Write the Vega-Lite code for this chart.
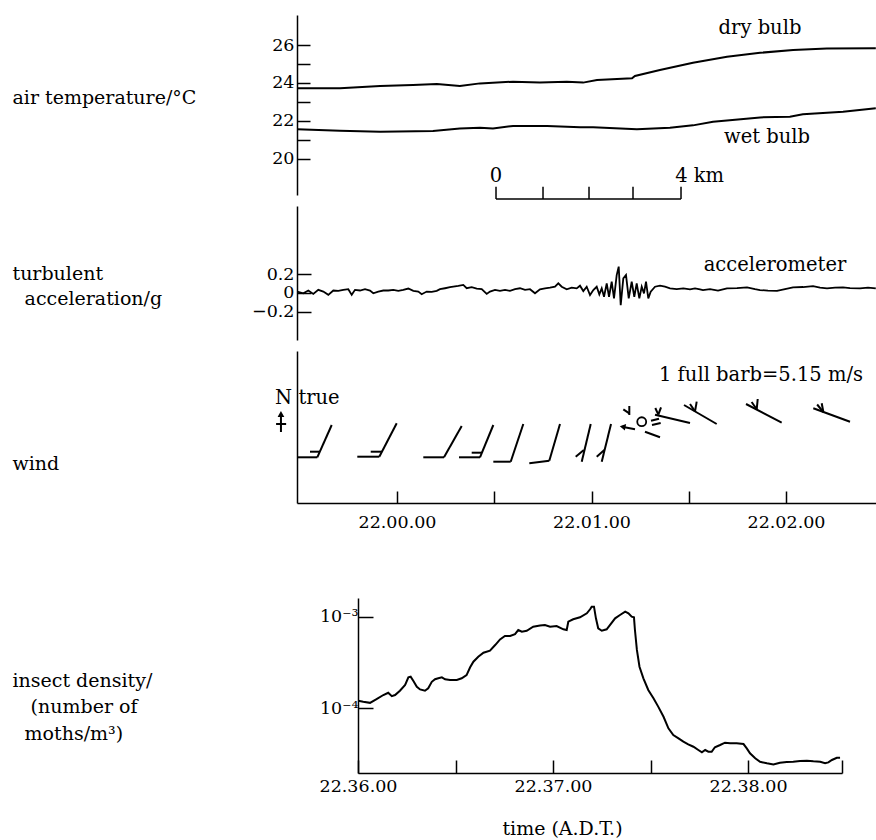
{
"$schema":"https://vega.github.io/schema/vega-lite/v6.json",
"background":"white",
"padding":{"left":12,"top":15,"right":0,"bottom":0},
"config":{
  "font":"DejaVu Serif",
  "view":{"stroke":null},
  "axis":{"domainColor":"black","domainWidth":1.5,"tickColor":"black","tickWidth":1.5,"labelColor":"black","titleColor":"black","labelFont":"DejaVu Serif","titleFont":"DejaVu Serif","labelFontSize":17.5,"titleFontSize":19,"titleFontWeight":"normal","grid":false,"labelFlush":false,"labelOverlap":false,"labelBound":false},
  "text":{"font":"DejaVu Serif","fontSize":19.5,"color":"black"}
},
"datasets":{
  "temperature":[
    {"sensor":"dry bulb","t":-30.8,"v":23.72},{"sensor":"dry bulb","t":-17.6,"v":23.72},{"sensor":"dry bulb","t":-5.2,"v":23.84},{"sensor":"dry bulb","t":4.9,"v":23.89},{"sensor":"dry bulb","t":12.3,"v":23.95},{"sensor":"dry bulb","t":19.4,"v":23.84},{"sensor":"dry bulb","t":25.6,"v":23.98},{"sensor":"dry bulb","t":35.8,"v":24.07},{"sensor":"dry bulb","t":44.1,"v":24.02},{"sensor":"dry bulb","t":52.4,"v":24.07},{"sensor":"dry bulb","t":57.4,"v":24.02},{"sensor":"dry bulb","t":61.7,"v":24.16},{"sensor":"dry bulb","t":72.5,"v":24.25},{"sensor":"dry bulb","t":73.4,"v":24.37},{"sensor":"dry bulb","t":81.1,"v":24.68},{"sensor":"dry bulb","t":91.3,"v":25.07},{"sensor":"dry bulb","t":101.8,"v":25.38},{"sensor":"dry bulb","t":112,"v":25.59},{"sensor":"dry bulb","t":122.2,"v":25.74},{"sensor":"dry bulb","t":132.6,"v":25.81},{"sensor":"dry bulb","t":147.7,"v":25.83},
    {"sensor":"wet bulb","t":-30.8,"v":21.56},{"sensor":"wet bulb","t":-17.6,"v":21.49},{"sensor":"wet bulb","t":-5.2,"v":21.44},{"sensor":"wet bulb","t":11.1,"v":21.47},{"sensor":"wet bulb","t":19.4,"v":21.61},{"sensor":"wet bulb","t":25.6,"v":21.65},{"sensor":"wet bulb","t":29.6,"v":21.61},{"sensor":"wet bulb","t":35.8,"v":21.74},{"sensor":"wet bulb","t":46.3,"v":21.74},{"sensor":"wet bulb","t":56.5,"v":21.67},{"sensor":"wet bulb","t":60.5,"v":21.67},{"sensor":"wet bulb","t":74.0,"v":21.56},{"sensor":"wet bulb","t":84.2,"v":21.65},{"sensor":"wet bulb","t":91.3,"v":21.77},{"sensor":"wet bulb","t":97.5,"v":21.96},{"sensor":"wet bulb","t":112.0,"v":22.19},{"sensor":"wet bulb","t":121.2,"v":22.23},{"sensor":"wet bulb","t":125.2,"v":22.35},{"sensor":"wet bulb","t":137.6,"v":22.49},{"sensor":"wet bulb","t":147.7,"v":22.67}
  ],
  "accel":[
    {"t":-30.8,"v":0.014},{"t":-28.9,"v":-0.004},{"t":-27.36,"v":0.025},{"t":-25.82,"v":-0.011},{"t":-24.28,"v":0.032},{"t":-22.73,"v":0.014},{"t":-21.19,"v":-0.021},{"t":-19.65,"v":0.025},{"t":-18.11,"v":0.021},{"t":-16.57,"v":0.032},{"t":-15.02,"v":0.039},{"t":-13.97,"v":-0.021},{"t":-12.96,"v":0.032},{"t":-11.41,"v":0.025},{"t":-9.87,"v":0.039},{"t":-8.33,"v":0.025},{"t":-7.31,"v":-0.004},{"t":-5.77,"v":0.014},{"t":-4.23,"v":0.025},{"t":-2.68,"v":0.025},{"t":-1.14,"v":0.032},{"t":0.4,"v":0.021},{"t":1.94,"v":0.032},{"t":3.49,"v":0.046},{"t":5.03,"v":0.021},{"t":6.57,"v":0.014},{"t":7.62,"v":-0.014},{"t":9.16,"v":0.014},{"t":10.7,"v":0.011},{"t":12.25,"v":0.021},{"t":13.26,"v":0.039},{"t":14.81,"v":0.049},{"t":16.35,"v":0.06},{"t":17.37,"v":0.067},{"t":18.91,"v":0.074},{"t":20.45,"v":0.084},{"t":21.5,"v":0.049},{"t":23.04,"v":0.06},{"t":24.59,"v":0.046},{"t":26.13,"v":0.039},{"t":27.67,"v":-0.011},{"t":28.69,"v":0.014},{"t":30.23,"v":0.032},{"t":31.77,"v":0.021},{"t":33.32,"v":0.032},{"t":34.86,"v":0.021},{"t":36.4,"v":0.039},{"t":37.94,"v":0.049},{"t":39.49,"v":0.032},{"t":41.03,"v":0.039},{"t":42.57,"v":-0.004},
    {"t":44.11,"v":0.037},{"t":45.66,"v":0.048},{"t":47.2,"v":0.055},{"t":48.74,"v":0.065},{"t":49.76,"v":0.101},{"t":50.81,"v":0.065},{"t":52.35,"v":0.037},{"t":53.89,"v":0.055},{"t":55.44,"v":0.048},{"t":56.45,"v":0.076},{"t":57.47,"v":0.019},{"t":58.52,"v":0.065},{"t":59.54,"v":-0.023},{"t":60.56,"v":0.03},{"t":61.6,"v":0.065},{"t":62.41,"v":-0.016},{"t":63.15,"v":0.048},{"t":63.86,"v":-0.041},{"t":64.69,"v":0.101},{"t":65.4,"v":-0.041},{"t":66.23,"v":0.118},{"t":66.94,"v":-0.059},{"t":67.77,"v":0.189},{"t":68.39,"v":0.278},{"t":69.01,"v":-0.13},{"t":69.81,"v":0.154},{"t":70.64,"v":0.189},{"t":71.48,"v":-0.059},{"t":72.4,"v":0.118},{"t":73.2,"v":-0.041},{"t":73.94,"v":0.101},{"t":74.75,"v":-0.059},{"t":75.49,"v":0.065},{"t":76.19,"v":-0.005},{"t":76.81,"v":0.118},{"t":77.52,"v":-0.059},{"t":78.26,"v":0.012},{"t":79.59,"v":0.065},{"t":81.13,"v":0.076},{"t":82.67,"v":0.065},{"t":84.22,"v":0.048},{"t":86.28,"v":0.04},{"t":88.32,"v":0.048},{"t":90.38,"v":0.037},{"t":91.93,"v":0.048},{"t":93.47,"v":0.037},
    {"t":94.39,"v":0.03},{"t":96.55,"v":0.04},{"t":99.02,"v":0.024},{"t":101.8,"v":0.048},{"t":104.88,"v":0.051},{"t":107.97,"v":0.059},{"t":110.44,"v":0.04},{"t":111.98,"v":0.03},{"t":114.45,"v":0.024},{"t":117.22,"v":0.022},{"t":119.69,"v":0.04},{"t":122.16,"v":0.059},{"t":125.24,"v":0.062},{"t":128.33,"v":0.072},{"t":130.49,"v":0.056},{"t":132.65,"v":0.048},{"t":135.12,"v":0.056},{"t":137.58,"v":0.059},{"t":139.74,"v":0.051},{"t":142.83,"v":0.048},{"t":145.3,"v":0.056},{"t":147.7,"v":0.048}
  ],
  "barbs":[
    {"t":-30.76,"v":45.7,"t2":-24.59,"v2":45.7},{"t":-24.59,"v":45.7,"t2":-20.14,"v2":78},{"t":-26.84,"v":51.3,"t2":-23.81,"v2":51.3},
    {"t":-12.25,"v":46.3,"t2":-5.46,"v2":46.3},{"t":-5.46,"v":46.3,"t2":-0.09,"v2":79.7},{"t":-8.11,"v":51.3,"t2":-4.63,"v2":51.3},
    {"t":8.11,"v":45.7,"t2":14.5,"v2":45.7},{"t":14.5,"v":45.7,"t2":19.96,"v2":77},
    {"t":19.13,"v":45.7,"t2":25.6,"v2":45.7},{"t":23.04,"v":50.3,"t2":26.22,"v2":50.3},{"t":25.6,"v":45.7,"t2":29.71,"v2":78},
    {"t":29.71,"v":41.3,"t2":35.07,"v2":41.3},{"t":35.07,"v":41.3,"t2":38.96,"v2":79},
    {"t":40.81,"v":39.7,"t2":46.98,"v2":42.3},{"t":46.98,"v":42.3,"t2":50.28,"v2":79},
    {"t":56.98,"v":41.3,"t2":59.76,"v2":79},{"t":57.63,"v":53,"t2":55.13,"v2":46.3},
    {"t":63.15,"v":41.3,"t2":66.02,"v2":79},{"t":63.96,"v":53,"t2":61.61,"v2":46.3},
    {"t":69.41,"v":76.3,"t2":73.42,"v2":73.7},
    {"t":69.81,"v":93.7,"t2":71.66,"v2":89.7},{"t":71.66,"v":97,"t2":71.66,"v2":88},
    {"t":78.35,"v":82.3,"t2":80.82,"v2":84.3},{"t":78.66,"v":78,"t2":81.34,"v2":80},
    {"t":76.5,"v":71.3,"t2":81.13,"v2":65.7},
    {"t":79.59,"v":88.3,"t2":90.38,"v2":80},{"t":79.68,"v":95,"t2":80.61,"v2":88.3},{"t":81.44,"v":95.7,"t2":80.61,"v2":88.3},
    {"t":88.53,"v":98,"t2":98.62,"v2":79},{"t":91.93,"v":91.6,"t2":92.45,"v2":101.3},{"t":90.38,"v":99,"t2":91.93,"v2":91.6},
    {"t":107.66,"v":99,"t2":118.67,"v2":80.3},{"t":110.96,"v":93.7,"t2":111.27,"v2":104},{"t":109.4,"v":101,"t2":110.96,"v2":93.7},
    {"t":128.42,"v":94.7,"t2":139.74,"v2":81.3},{"t":131.51,"v":91,"t2":131.02,"v2":99.7},{"t":129.6,"v":98.5,"t2":131.51,"v2":91},
    {"t":-35.8,"v":71,"t2":-35.8,"v2":88},{"t":-37.3,"v":79,"t2":-34.2,"v2":79}
  ],
  "insect":[
    {"t":0.1,"v":1.213e-4},{"t":1.6,"v":1.18e-4},{"t":3.7,"v":1.15e-4},{"t":5.7,"v":1.26e-4},{"t":7.8,"v":1.4e-4},{"t":9.3,"v":1.48e-4},{"t":10.4,"v":1.36e-4},{"t":11.4,"v":1.4e-4},{"t":12.9,"v":1.56e-4},{"t":14.5,"v":1.8e-4},{"t":15.5,"v":2.18e-4},{"t":16.2,"v":2.22e-4},{"t":17.0,"v":2.0e-4},{"t":18.1,"v":1.72e-4},{"t":19.1,"v":1.61e-4},{"t":20.6,"v":1.56e-4},{"t":21.6,"v":1.66e-4},{"t":22.7,"v":1.95e-4},{"t":23.7,"v":2.08e-4},{"t":24.7,"v":2.13e-4},{"t":25.8,"v":2.18e-4},{"t":26.8,"v":2.08e-4},{"t":28.3,"v":2.04e-4},{"t":30.4,"v":2.04e-4},{"t":31.9,"v":2.13e-4},{"t":33.4,"v":2.31e-4},{"t":34.5,"v":2.81e-4},{"t":35.5,"v":3.23e-4},{"t":37.0,"v":3.66e-4},{"t":38.6,"v":4.05e-4},{"t":40.6,"v":4.26e-4},{"t":42.2,"v":4.91e-4},{"t":43.7,"v":5.66e-4},{"t":45.2,"v":6.16e-4},{"t":46.8,"v":6.16e-4},{"t":48.3,"v":6.47e-4},{"t":49.3,"v":7.16e-4},{"t":50.4,"v":6.86e-4},{"t":51.9,"v":7.03e-4},{"t":53.9,"v":7.78e-4},{"t":56.0,"v":8.0e-4},{"t":57.5,"v":8.11e-4},{"t":59.1,"v":7.78e-4},{"t":61.1,"v":7.92e-4},{"t":63.2,"v":7.29e-4},{"t":64.2,"v":7.16e-4},{"t":64.7,"v":8.82e-4},{"t":66.2,"v":9.37e-4},{"t":68.3,"v":9.85e-4},{"t":70.4,"v":1.089e-3},{"t":71.4,"v":1.205e-3},{"t":71.9,"v":1.286e-3},{"t":72.6,"v":1.286e-3},{"t":73.2,"v":9.6e-4},{"t":73.9,"v":7.47e-4},{"t":75.0,"v":7.03e-4},{"t":76.5,"v":7.29e-4},{"t":77.5,"v":8.11e-4},{"t":79.1,"v":9.6e-4},{"t":80.6,"v":1.045e-3},{"t":82.2,"v":1.135e-3},{"t":83.2,"v":1.089e-3},{"t":84.2,"v":1.0e-3},{"t":84.9,"v":9.85e-4},{"t":85.2,"v":7.16e-4},{"t":85.8,"v":4.34e-4},{"t":86.6,"v":2.85e-4},{"t":87.8,"v":2.13e-4},{"t":89.3,"v":1.59e-4},{"t":90.9,"v":1.29e-4},{"t":92.4,"v":1.04e-4},{"t":94.0,"v":8.11e-5},{"t":95.5,"v":6.07e-5},{"t":97.0,"v":5.13e-5},{"t":98.6,"v":4.72e-5},{"t":100.1,"v":4.34e-5},{"t":101.6,"v":4.06e-5},{"t":103.2,"v":3.82e-5},{"t":104.7,"v":3.52e-5},{"t":105.8,"v":3.32e-5},{"t":106.8,"v":3.52e-5},{"t":107.8,"v":3.37e-5},{"t":108.8,"v":3.37e-5},{"t":109.8,"v":3.77e-5},{"t":111.4,"v":3.99e-5},{"t":112.9,"v":4.23e-5},{"t":114.5,"v":4.16e-5},{"t":116.5,"v":4.16e-5},{"t":118.6,"v":4.09e-5},{"t":119.6,"v":3.67e-5},{"t":120.6,"v":3.24e-5},{"t":122.2,"v":2.86e-5},{"t":123.7,"v":2.62e-5},{"t":125.8,"v":2.52e-5},{"t":127.8,"v":2.45e-5},{"t":129.8,"v":2.56e-5},{"t":131.9,"v":2.6e-5},{"t":133.9,"v":2.62e-5},{"t":136.0,"v":2.67e-5},{"t":138.1,"v":2.69e-5},{"t":140.1,"v":2.65e-5},{"t":142.2,"v":2.62e-5},{"t":143.7,"v":2.52e-5},{"t":144.7,"v":2.58e-5},{"t":145.8,"v":2.74e-5},{"t":147.3,"v":2.9e-5},{"t":148.3,"v":2.9e-5}
  ]
},
"bounds":"flush",
"spacing":11,
"vconcat":[
    {"width":579,"height":180,
     "encoding":{
       "x":{"field":"t","type":"quantitative","scale":{"domain":[-30.85,147.76],"nice":false,"zero":false},"axis":null},
       "y":{"field":"v","type":"quantitative","scale":{"domain":[18.105,27.579],"nice":false,"zero":false},
            "axis":{"values":[20,21,22,23,24,25,26],"labelExpr":"datum.value % 2 == 0 ? datum.label : ''","tickSize":-13,"labelPadding":16,
                    "title":"air temperature/°C","titleAngle":0,"titleAlign":"left","titleBaseline":"alphabetic","titleX":-285,"titleY":88}}},
     "layer":[
       {"data":{"name":"temperature"},"mark":{"type":"line","color":"black","strokeWidth":2},"encoding":{"detail":{"field":"sensor"}}},
       {"data":{"values":[{"label":"dry bulb","t":111.98,"v":26.89},{"label":"wet bulb","t":114.14,"v":21.16},{"label":"0","t":30.54,"v":19.1}]},
        "mark":{"type":"text","align":"center","baseline":"middle"},"encoding":{"text":{"field":"label"}}},
       {"data":{"values":[{"label":"4 km","t":85.8,"v":19.1}]},
        "mark":{"type":"text","align":"left","baseline":"middle"},"encoding":{"text":{"field":"label"}}},
       {"data":{"values":[{"t":30.54,"v":17.89,"t2":87.61,"v2":17.89},{"t":30.54,"v":17.89,"t2":30.54,"v2":18.54},{"t":45.04,"v":17.89,"t2":45.04,"v2":18.54},{"t":59.23,"v":17.89,"t2":59.23,"v2":18.54},{"t":72.8,"v":17.89,"t2":72.8,"v2":18.54},{"t":87.61,"v":17.89,"t2":87.61,"v2":18.54}]},
        "mark":{"type":"rule","color":"black","strokeWidth":1.5},"encoding":{"x2":{"field":"t2"},"y2":{"field":"v2"}}}
     ]},
    {"width":579,"height":134,
     "encoding":{
       "x":{"field":"t","type":"quantitative","scale":{"domain":[-30.85,147.76],"nice":false,"zero":false},"axis":null},
       "y":{"field":"v","type":"quantitative","scale":{"domain":[-0.5,0.9215],"nice":false,"zero":false},
            "axis":{"values":[-0.2,0,0.2],"labelExpr":"datum.value > 0.1 ? '0.2' : (datum.value < -0.1 ? '\u22120.2' : '0')","tickSize":-14,"labelPadding":17,
                    "title":["turbulent","\u200b\u00a0\u00a0acceleration/g"],"titleLineHeight":25,"titleAngle":0,"titleAlign":"left","titleBaseline":"alphabetic","titleX":-285,"titleY":73}}},
     "layer":[
       {"data":{"name":"accel"},"mark":{"type":"line","color":"black","strokeWidth":1.8}},
       {"data":{"values":[{"label":"accelerometer","t":116.6,"v":0.296}]},
        "mark":{"type":"text","align":"center","baseline":"middle"},"encoding":{"text":{"field":"label"}}}
     ]},
    {"width":579,"height":152,
     "encoding":{
       "x":{"field":"t","type":"quantitative","scale":{"domain":[-30.85,147.76],"nice":false,"zero":false},
            "axis":{"orient":"bottom","values":[0,30,60,90,120],"labelExpr":"datum.value == 0 ? '22.00.00' : (datum.value == 60 ? '22.01.00' : (datum.value == 120 ? '22.02.00' : ''))","tickSize":-12,"labelPadding":22,"title":null}},
       "y":{"field":"v","type":"quantitative","scale":{"domain":[0,152],"nice":false,"zero":false},
            "axis":{"ticks":false,"labels":false,"title":"wind","titleAngle":0,"titleAlign":"left","titleBaseline":"alphabetic","titleX":-285,"titleY":118}}},
     "layer":[
       {"data":{"name":"barbs"},"mark":{"type":"rule","color":"black","strokeWidth":2},"encoding":{"x2":{"field":"t2"},"y2":{"field":"v2"}}},
       {"data":{"values":[{"t":75.49,"v":81.3}]},"mark":{"type":"point","shape":"circle","filled":false,"size":80,"color":"black","strokeWidth":1.8,"opacity":1}},
       {"data":{"values":[{"t":69.6,"v":76.3,"angle":-79},{"t":-35.8,"v":89,"angle":0}]},
        "mark":{"type":"point","shape":"triangle-up","filled":true,"size":45,"color":"black","opacity":1},
        "encoding":{"angle":{"field":"angle","type":"quantitative","scale":null}}},
       {"data":{"values":[{"label":"N true","t":-37.6,"v":99}]},
        "mark":{"type":"text","align":"left","baseline":"alphabetic"},"encoding":{"text":{"field":"label"}}},
       {"data":{"values":[{"label":"1 full barb=5.15 m/s","t":112.29,"v":128}]},
        "mark":{"type":"text","align":"center","baseline":"middle"},"encoding":{"text":{"field":"label"}}}
     ]},
    {"width":1,"height":73,"data":{"values":[{"blank":""}]},"mark":{"type":"text"},"encoding":{"text":{"field":"blank"}}},
    {"bounds":"flush","spacing":60,"hconcat":[
      {"width":1,"height":175,"data":{"values":[{"blank":""}]},"mark":{"type":"text"},"encoding":{"text":{"field":"blank"}}},
      {"width":484,"height":175,
       "data":{"name":"insect"},
       "mark":{"type":"line","color":"black","strokeWidth":2},
       "encoding":{
         "x":{"field":"t","type":"quantitative","scale":{"domain":[0,148.9],"nice":false,"zero":false},
              "axis":{"values":[0,30,60,90,120,148.9],"labelExpr":"datum.value == 0 ? '22.36.00' : (datum.value == 60 ? '22.37.00' : (datum.value == 120 ? '22.38.00' : ''))","tickSize":-13,"labelPadding":17,
                      "title":"time (A.D.T.)","titleX":204,"titleY":61,"titleBaseline":"alphabetic","titleAlign":"center"}},
         "y":{"field":"v","type":"quantitative","scale":{"type":"log","domain":[1.976e-5,1.6e-3],"nice":false},
              "axis":{"values":[1e-4,1e-3],"labelExpr":"datum.value > 5e-4 ? '10\u207b\u00b3' : '10\u207b\u2074'","tickSize":-15,"labelPadding":15,
                      "title":["insect density/","\u200b\u00a0\u00a0\u00a0(number of","\u200b\u00a0\u00a0moths/m\u00b3)"],"titleLineHeight":26.5,"titleAngle":0,"titleAlign":"left","titleBaseline":"alphabetic","titleX":-346,"titleY":88}}}
      }
    ]}
]
}
